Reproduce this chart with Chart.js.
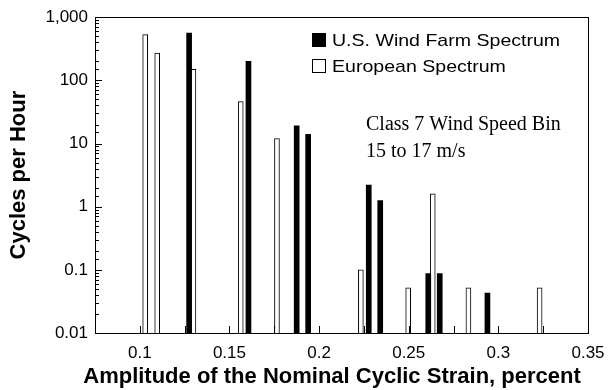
<!DOCTYPE html>
<html>
<head>
<meta charset="utf-8">
<script src="https://cdn.jsdelivr.net/npm/chart.js@4/dist/chart.umd.min.js"></script>
<style>
  html, body { margin: 0; padding: 0; background: #fff; }
  #wrap { width: 616px; height: 390px; }
</style>
</head>
<body>
<div id="wrap"><canvas id="strainChart" width="616" height="390"></canvas></div>
<script>
// strain amplitude (percent) and cycles per hour
const usStrain = [0.1275, 0.1606, 0.1875, 0.1939, 0.2277, 0.2341, 0.2609, 0.2673, 0.2939];
const usCycles = [560, 200, 19, 14, 2.2, 1.25, 0.087, 0.087, 0.043];
const euStrain = [0.1030, 0.1097, 0.1299, 0.1563, 0.1765, 0.2233, 0.2497, 0.2634, 0.2833, 0.3230];
const euCycles = [530, 270, 150, 46, 12, 0.1, 0.052, 1.6, 0.052, 0.052];
const xTickLabels = [0.1, 0.15, 0.2, 0.25, 0.3, 0.35];
const yTickLabels = [0.01, 0.1, 1, 10, 100, 1000];
const seriesNames = ['U.S. Wind Farm Spectrum', 'European Spectrum'];
const noteLines = ['Class 7 Wind Speed Bin', '15 to 17 m/s'];
const xTitle = 'Amplitude of the Nominal Cyclic Strain, percent';

const sans = "Arial, 'Liberation Sans', Helvetica, sans-serif";
const serif = "'Times New Roman', 'Liberation Serif', serif";

function pairs(xs, ys) {
    return xs.map((x, i) => ({ x: x, y: ys[i] }));
}

// frame, inward ticks, legend, note and x title
const framePlugin = {
    id: 'frame',
    afterDraw(chart) {
        const ctx = chart.ctx;
        const a = chart.chartArea;
        const xs = chart.scales.x;
        const ys = chart.scales.y;
        ctx.save();
        ctx.strokeStyle = '#000';
        ctx.lineWidth = 1;
        ctx.strokeRect(Math.round(a.left) + 0.5, Math.round(a.top) + 0.5,
            Math.round(a.right - a.left), Math.round(a.bottom - a.top));

        ctx.beginPath();
        ys.ticks.forEach(t => {
            const py = Math.round(ys.getPixelForValue(t.value)) + 0.5;
            const isMajor = yTickLabels.some(v => Math.abs(Math.log10(v) - Math.log10(t.value)) < 1e-6);
            const len = isMajor ? 7 : 4;
            ctx.moveTo(a.left, py);
            ctx.lineTo(a.left + len, py);
        });
        xs.ticks.forEach(t => {
            if (t.value <= xs.min + 1e-9 || t.value >= xs.max - 1e-9) return;
            const px = Math.round(xs.getPixelForValue(t.value)) + 0.5;
            ctx.moveTo(px, a.bottom);
            ctx.lineTo(px, a.bottom - 7);
        });
        ctx.stroke();

        // legend
        ctx.fillStyle = '#000';
        ctx.fillRect(312, 33, 14, 14);
        ctx.fillStyle = '#fff';
        ctx.fillRect(312.5, 59.5, 13, 13);
        ctx.strokeRect(312.5, 59.5, 13, 13);
        ctx.fillStyle = '#000';
        ctx.textBaseline = 'middle';
        ctx.textAlign = 'left';
        ctx.save();
        ctx.translate(332, 0);
        ctx.scale(1.15, 1);
        ctx.font = '17px ' + sans;
        ctx.fillText(seriesNames[0], 0, 41);
        ctx.fillText(seriesNames[1], 0, 67);
        ctx.restore();

        ctx.font = '20px ' + serif;
        ctx.fillText(noteLines[0], 366, 125);
        ctx.fillText(noteLines[1], 366, 152);

        // x axis title, sits a bit left of the plot centre
        ctx.font = 'bold 22px ' + sans;
        ctx.textAlign = 'center';
        ctx.fillText(xTitle, 332, 377);
        ctx.restore();
    }
};

const ctx = document.getElementById('strainChart').getContext('2d');

new Chart(ctx, {
    type: 'bar',
    data: {
        datasets: [{
            label: seriesNames[0],
            data: pairs(usStrain, usCycles),
            backgroundColor: '#000',
            borderColor: '#000',
            borderWidth: 0,
            barThickness: 5
        }, {
            label: seriesNames[1],
            data: pairs(euStrain, euCycles),
            backgroundColor: '#fff',
            borderColor: '#000',
            borderWidth: 1,
            barThickness: 5
        }]
    },
    options: {
        responsive: false,
        animation: false,
        layout: { padding: { left: 0, top: 16, right: 28, bottom: 0 } },
        datasets: { bar: { grouped: false } },
        plugins: {
            legend: { display: false },
            tooltip: { enabled: false }
        },
        scales: {
            x: {
                type: 'linear',
                min: 0.075,
                max: 0.35,
                offset: false,
                grid: { display: false, drawTicks: false },
                border: { display: false },
                ticks: {
                    stepSize: 0.025,
                    autoSkip: false,
                    maxRotation: 0,
                    padding: 10,
                    color: '#000',
                    font: { family: sans, size: 17 },
                    callback: function(v) {
                        const hit = xTickLabels.find(t => Math.abs(t - v) < 1e-6);
                        return hit === undefined ? '' : String(hit);
                    }
                },
                title: { display: false },
                afterFit: function(scale) { scale.height = 57; }
            },
            y: {
                type: 'logarithmic',
                min: 0.01,
                max: 1000,
                grid: { display: false, drawTicks: false },
                border: { display: false },
                ticks: {
                    autoSkip: false,
                    padding: 7,
                    color: '#000',
                    font: { family: sans, size: 17 },
                    callback: function(v) {
                        const hit = yTickLabels.find(t => Math.abs(Math.log10(t) - Math.log10(v)) < 1e-6);
                        if (hit === undefined) return '';
                        return hit >= 1000 ? hit.toLocaleString('en-US') : String(hit);
                    }
                },
                title: {
                    display: true,
                    text: 'Cycles per Hour',
                    color: '#000',
                    font: { family: sans, size: 22, weight: 'bold' },
                    padding: { top: 6, bottom: 0 }
                },
                afterFit: function(scale) { scale.width = 95; }
            }
        }
    },
    plugins: [framePlugin]
});
</script>
</body>
</html>
